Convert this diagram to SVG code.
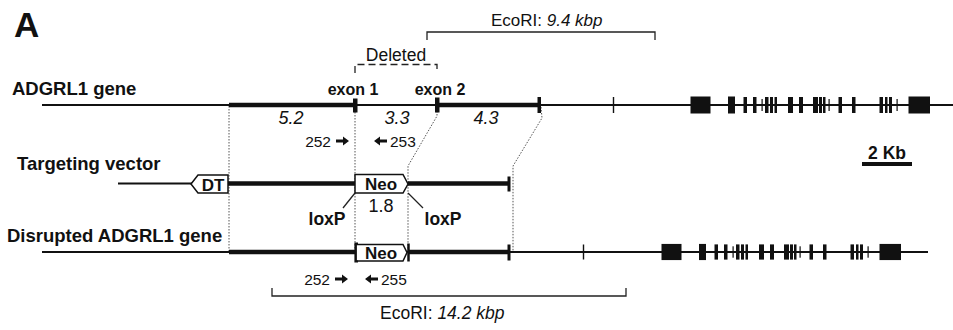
<svg xmlns="http://www.w3.org/2000/svg" xmlns:xlink="http://www.w3.org/1999/xlink" width="953" height="330" viewBox="0 0 953 330">
<style>
text{font-family:"Liberation Sans",Arial,sans-serif;fill:#111}
.lbl{font-size:18.5px;font-weight:bold}
.num{font-size:18px;font-style:italic}
.sm{font-size:15.5px}
.thin{stroke:#111;stroke-width:2.2;fill:none}
.thick{stroke:#111;stroke-width:4.5;fill:none}
.dot{stroke:#555;stroke-width:1;stroke-dasharray:1.5 1.5;fill:none}
.brk{stroke:#222;stroke-width:1.3;fill:none}
.box{fill:#fff;stroke:#111;stroke-width:1.5}
.ex{fill:#111}
</style>
<defs>
<g id="exonSet">
<rect class="ex" x="690.5" y="-8.5" width="20" height="17"/>
<rect class="ex" x="728" y="-8.5" width="7" height="17"/>
<rect class="ex" x="743.5" y="-8" width="3.5" height="16"/>
<rect class="ex" x="753" y="-8" width="3.5" height="16"/>
<rect class="ex" x="761.5" y="-6" width="1.2" height="12"/>
<rect class="ex" x="765" y="-8" width="3.5" height="16"/>
<rect class="ex" x="770" y="-8" width="3" height="16"/>
<rect class="ex" x="774.5" y="-8" width="2.5" height="16"/>
<rect class="ex" x="788" y="-8" width="5" height="16"/>
<rect class="ex" x="799" y="-8" width="4" height="16"/>
<rect class="ex" x="813" y="-8" width="5" height="16"/>
<rect class="ex" x="819" y="-8" width="3" height="16"/>
<rect class="ex" x="823" y="-8" width="2.5" height="16"/>
<rect class="ex" x="828.5" y="-6" width="1.2" height="12"/>
<rect class="ex" x="838.5" y="-8" width="3.5" height="16"/>
<rect class="ex" x="852" y="-8" width="3.5" height="16"/>
<rect class="ex" x="879.5" y="-8" width="3.5" height="16"/>
<rect class="ex" x="885" y="-8" width="2.5" height="16"/>
<rect class="ex" x="889" y="-8" width="3" height="16"/>
<rect class="ex" x="896.5" y="-6" width="1.2" height="12"/>
<rect class="ex" x="908.5" y="-8.5" width="21.5" height="17"/>
</g>
<path id="arrR" d="M0,-1.5 H7 V-4.5 L13,0 L7,4.5 V1.5 H0 Z" fill="#111"/>
</defs>

<text x="14" y="37" style="font-size:35px;font-weight:bold">A</text>

<g id="connectors">
<path class="dot" d="M229,106 V252"/>
<path class="dot" d="M355,106 V252"/>
<path class="dot" d="M437,108 V116 L408,166 V252"/>
<path class="dot" d="M541,107 L542,118 L513,166 V252"/>
<path class="brk" d="M355,193 L343,208"/>
<path class="brk" d="M408,193 L423,208"/>
</g>

<g id="ecori-top">
<path class="brk" d="M427,40 V32 H655 V40"/>
<text x="491" y="26" style="font-size:17px">EcoRI: <tspan font-style="italic">9.4 kbp</tspan></text>
</g>

<g id="deleted">
<path class="brk" d="M355,73 V64.5 H437 V73" stroke-dasharray="7 4"/>
<text x="396" y="61" text-anchor="middle" style="font-size:17.5px">Deleted</text>
</g>

<g id="gene">
<text x="12" y="95" class="lbl">ADGRL1 gene</text>
<path class="thin" d="M42,105 H953"/>
<path class="thick" d="M229,105 H355"/>
<path class="thick" d="M437,105 H540"/>
<rect class="ex" x="353" y="98.5" width="4.5" height="14"/>
<rect class="ex" x="435" y="97.5" width="4.5" height="15"/>
<rect class="ex" x="537.5" y="97" width="3.5" height="16"/>
<rect class="ex" x="612.8" y="97" width="1.4" height="16"/>
<use xlink:href="#exonSet" transform="translate(0,105)"/>
<text x="353" y="95" text-anchor="middle" style="font-size:16px;font-weight:bold">exon 1</text>
<text x="440" y="95" text-anchor="middle" style="font-size:16px;font-weight:bold">exon 2</text>
<text x="291" y="124" text-anchor="middle" class="num">5.2</text>
<text x="397" y="124" text-anchor="middle" class="num">3.3</text>
<text x="486" y="124" text-anchor="middle" class="num">4.3</text>
<text x="331" y="147" text-anchor="end" class="sm">252</text>
<use xlink:href="#arrR" transform="translate(336,141)"/>
<use xlink:href="#arrR" transform="translate(387,141) scale(-1,1)"/>
<text x="390" y="147" class="sm">253</text>
</g>

<g id="scale">
<text x="887" y="159" text-anchor="middle" style="font-size:17.5px;font-weight:bold">2 Kb</text>
<rect x="862" y="162" width="50" height="4" fill="#111"/>
</g>

<g id="vector">
<text x="17" y="170" class="lbl">Targeting vector</text>
<path class="thin" d="M118,183.5 H192" stroke-width="3"/>
<path class="thick" d="M228,183.5 H355"/>
<path class="thick" d="M408,183.5 H509"/>
<rect class="ex" x="507.5" y="176.5" width="3" height="15"/>
<path class="box" d="M191,184 L198,175 H228 V193 H198 Z"/>
<text x="213" y="190.5" text-anchor="middle" style="font-size:17px;font-weight:bold">DT</text>
<path class="box" d="M355,174.5 H403 L408,184 L403,193 H355 Z"/>
<text x="381" y="190" text-anchor="middle" style="font-size:17px;font-weight:bold">Neo</text>
<text x="381" y="212" text-anchor="middle" style="font-size:18px">1.8</text>
<text x="327" y="225" text-anchor="middle" style="font-size:17.5px;font-weight:bold">loxP</text>
<text x="443" y="225" text-anchor="middle" style="font-size:17.5px;font-weight:bold">loxP</text>
</g>

<g id="disrupted">
<text x="7" y="242" class="lbl">Disrupted ADGRL1 gene</text>
<path class="thin" d="M42,252 H928"/>
<path class="thick" d="M229,252 H355"/>
<path class="thick" d="M408,252 H509"/>
<rect class="ex" x="507.5" y="244.5" width="3" height="16"/>
<rect class="ex" x="582.8" y="244.5" width="1.4" height="15"/>
<use xlink:href="#exonSet" transform="translate(-29,252) scale(1,0.95)"/>
<path class="box" d="M356,244.5 H403 L407,252.5 L403,261 H356 Z"/>
<path d="M358,243.5 H355.5 V261.5 H358" stroke="#111" stroke-width="2.2" fill="none"/>
<path d="M408.5,243.5 V261.5" stroke="#111" stroke-width="2.5"/>
<text x="381" y="259" text-anchor="middle" style="font-size:17px;font-weight:bold">Neo</text>
<text x="330" y="285" text-anchor="end" class="sm">252</text>
<use xlink:href="#arrR" transform="translate(335,279)"/>
<use xlink:href="#arrR" transform="translate(378,279) scale(-1,1)"/>
<text x="381" y="285" class="sm">255</text>
</g>

<g id="ecori-bottom">
<path class="brk" d="M272,288 V296 H626 V288"/>
<text x="380" y="319" style="font-size:17.5px">EcoRI: <tspan font-style="italic">14.2 kbp</tspan></text>
</g>
</svg>
